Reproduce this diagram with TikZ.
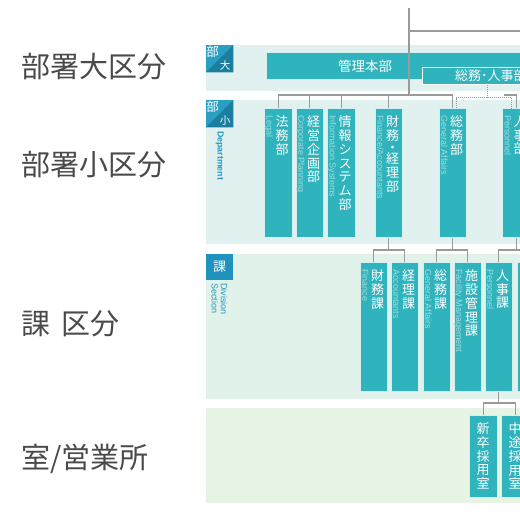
\documentclass[tikz,border=0pt]{standalone}
\usepackage{fontspec}
\setmainfont{Noto Sans CJK JP}
\newfontfamily\enfont{Liberation Sans}
\definecolor{boxfill}{HTML}{2FB3BD}
\definecolor{boxline}{HTML}{D6EFEF}
\definecolor{bandA}{HTML}{E0F1EF}
\definecolor{bandB}{HTML}{E1F2EA}
\definecolor{bandC}{HTML}{E8F4E3}
\definecolor{iconlight}{HTML}{2A9FC3}
\definecolor{icondark}{HTML}{1B7E9E}
\definecolor{iconsolid}{HTML}{1F92BE}
\definecolor{deptblue}{HTML}{2497BF}
\definecolor{linegray}{HTML}{9A9A9A}
\definecolor{entext}{HTML}{A3DBDF}
\definecolor{labeltext}{HTML}{4A4A4A}
\newcommand\orgunit[5]{%
  \node[orgbox, minimum height=129pt] (#1) at (#2,#3) {};
  \node[jp] (#1-jp) at ([xshift=18pt,yshift=-7.5pt]#1.north west) {#4};
  \node[en] (#1-en) at ([xshift=2.5pt,yshift=-7pt]#1.north west) {#5};
}
\begin{document}
\begin{tikzpicture}[x=1pt,y=-1pt,
  orgbox/.style={draw=boxline, line width=0.8pt, fill=boxfill, minimum width=27.5pt, inner sep=0pt, anchor=north west},
  jp/.style={text=white, font=\fontsize{13}{13.8}\selectfont, align=center, inner sep=0pt, anchor=north},
  en/.style={text=entext, font=\enfont\fontsize{9}{10}\selectfont, inner sep=0pt, rotate=-90, anchor=base west},
  conn/.style={draw=linegray, line width=1.1pt},
  dotconn/.style={draw=linegray, line width=1pt, dash pattern=on 1pt off 1pt},
  catname/.style={text=labeltext, font=\fontsize{29}{30}\selectfont, inner sep=0pt, anchor=west},
  iconsq/.style={minimum width=27pt, minimum height=27pt, inner sep=0pt, anchor=north west},
  icontxt/.style={text=white, inner sep=0pt},
  sidetxt/.style={text=deptblue, font=\enfont\fontsize{9}{9.2}\selectfont, inner sep=0pt, rotate=-90, align=left}
]
\useasboundingbox (0,0) rectangle (520,520);
\clip (0,0) rectangle (520,520);

% bands
\fill[bandA] (206,45) rectangle (520,91);
\fill[bandA] (206,100) rectangle (520,244);
\fill[bandB] (206,254) rectangle (520,399);
\fill[bandC] (206,408) rectangle (520,503);

% category labels
\node[catname] (cat1) at (21,66.5) {部署大区分};
\node[catname] (cat2) at (21,164.5) {部署小区分};
\node[catname] (cat3) at (21,324) {課\hspace{11pt}区分};
\node[catname] (cat4) at (21,458.5) {室/営業所};

% icons
\node[iconsq, fill=iconlight] (icon1) at (206,45) {};
\fill[icondark] (icon1.north east) -- (icon1.south east) -- (icon1.south west) -- cycle;
\node[icontxt, font=\fontsize{12.5}{12.5}\selectfont] (icon1a) at (212.5,51.5) {部};
\node[icontxt, font=\fontsize{10.5}{10.5}\selectfont] (icon1b) at (225,65.5) {大};

\node[iconsq, fill=iconlight] (icon2) at (206,100) {};
\fill[icondark] (icon2.north east) -- (icon2.south east) -- (icon2.south west) -- cycle;
\node[icontxt, font=\fontsize{12.5}{12.5}\selectfont] (icon2a) at (212.5,106.5) {部};
\node[icontxt, font=\fontsize{10.5}{10.5}\selectfont] (icon2b) at (225,120.5) {小};
\node[sidetxt, font=\enfont\bfseries\fontsize{8.8}{9.2}\selectfont, anchor=base west] (dept) at (217.5,131) {Department};

\node[iconsq, fill=iconsolid, minimum height=26pt] (icon3) at (206,254) {};
\node[icontxt, font=\fontsize{13}{13}\selectfont] (icon3a) at (219.5,267) {課};
\node[sidetxt, anchor=north west] (divsec) at (227.5,283) {Division\\Section};

% top-level connectors
\coordinate (top) at (409,8);
\coordinate (bus) at (409,95);
\coordinate (topright) at (520,31);
\draw[conn] (top |- topright) -- (topright);

% 部大 boxes
\node[orgbox, minimum width=280pt, minimum height=27pt] (kanri) at (266,52) {};
\node[icontxt, font=\fontsize{13.5}{14}\selectfont] (kanri-t) at (365,66) {管理本部};
\draw[conn] (top) -- (bus);
\node[orgbox, draw=white, line width=1.3pt, minimum width=120pt, minimum height=17pt] (soujin) at (422,67) {};
\node[icontxt, font=\fontsize{13}{13}\selectfont, anchor=west] (soujin-t) at (455,76) {総務･人事部};

% 部小 boxes
\orgunit{houmu}{264}{108}{法\\務\\部}{Legal}
\orgunit{keiei}{295.5}{108}{経\\営\\企\\画\\部}{Corporate Planning}
\orgunit{jouhou}{327}{108}{情\\報\\シ\\ス\\テ\\ム\\部}{Information Systems}
\orgunit{zaimu}{374.5}{108}{財\\務\\[-2pt]・\\[-2pt]経\\理\\部}{Finance/Accountants}
\orgunit{soumu}{438.5}{108}{総\\務\\部}{General Affairs}
\orgunit{jinji}{502}{108}{人\\事\\部}{Personnel}

% 課 boxes
\orgunit{zaimuka}{359.5}{262}{財\\務\\課}{Finance}
\orgunit{keirika}{390.5}{262}{経\\理\\課}{Accountants}
\orgunit{soumuka}{422.5}{262}{総\\務\\課}{General Affairs}
\orgunit{shisetsu}{453.5}{262}{施\\設\\管\\理\\課}{Facility Management}
\orgunit{jinjika}{484.5}{262}{人\\事\\課}{Personnel}
\node[orgbox, minimum height=129pt] (nextka) at (517,262) {};

% 室 boxes
\node[orgbox, minimum height=82pt] (shinsotsu) at (469,415) {};
\node[jp] (shinsotsu-jp) at ([xshift=14pt,yshift=-7.5pt]shinsotsu.north west) {新\\卒\\採\\用\\室};
\node[orgbox, minimum height=82pt] (chuto) at (501,415) {};
\node[jp] (chuto-jp) at ([xshift=14pt,yshift=-7.5pt]chuto.north west) {中\\途\\採\\用\\室};

% 部小 connectors
\draw[conn] (houmu.north) -- (houmu.north |- bus) -- (soumu.north |- bus) -- (soumu.north);
\foreach \n in {keiei,jouhou,zaimu} \draw[conn] (\n.north) -- (\n.north |- bus);
\coordinate (jbus) at (504,95);
\draw[conn] (jbus) -| (jinji.north);
\coordinate (dbus) at (487,97.5);
\draw[dotconn] (soujin.south -| dbus) -- (dbus);
\draw[dotconn] ([xshift=3.5pt]soumu.north) |- (dbus) -| ([xshift=-4.5pt]jinji.north);

% 課 connectors
\coordinate (b3) at (0,250);
\foreach \p/\a/\b in {zaimu/zaimuka/keirika, soumu/soumuka/shisetsu, jinji/jinjika/nextka}{
  \draw[conn] (\p.south) -- (\p.south |- b3);
  \draw[conn] (\a.north) -- (\a.north |- b3) -- (\b.north |- b3) -- (\b.north);
}

% 室 connectors
\coordinate (b4) at (0,403);
\draw[conn] (jinjika.south) -- (jinjika.south |- b4);
\draw[conn] (shinsotsu.north) -- (shinsotsu.north |- b4) -- (chuto.north |- b4) -- (chuto.north);
\end{tikzpicture}
\end{document}
